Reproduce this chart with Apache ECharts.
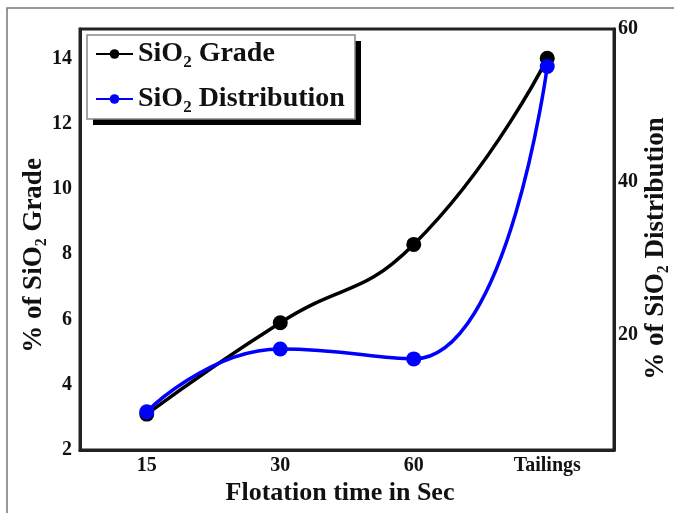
<!DOCTYPE html>
<html>
<head>
<meta charset="utf-8">
<script src="https://cdn.jsdelivr.net/npm/echarts@6/dist/echarts.min.js"></script>
<style>
html, body { margin: 0; padding: 0; background: #fff; }
#main { width: 674px; height: 513px; }
</style>
</head>
<body>
<div id="main"></div>
<script>
// data
var categories = ['15', '30', '60', 'Tailings'];
var gradeValues = [3.1, 5.9, 8.3, 14.0];          // left axis, % of SiO2 Grade
var distributionValues = [10.0, 18.2, 16.9, 55.1]; // right axis, % of SiO2 Distribution
var leftTicks = [2, 4, 6, 8, 10, 12, 14];
var rightTicks = [20, 40, 60];

var FONT = '"Liberation Serif", "DejaVu Serif", serif';
function subRich(size) {
    return {
        a: { fontFamily: FONT, fontWeight: 'bold', fontSize: size, color: '#111' },
        s: { fontFamily: FONT, fontWeight: 'bold', fontSize: Math.round(size * 0.6), color: '#111',
             padding: [Math.round(size * 0.6), 0, 0, 0] }
    };
}

var myChart = echarts.init(document.getElementById('main'));
myChart.setOption({
    animation: false,
    backgroundColor: '#fff',
    graphic: [{
        type: 'rect',
        shape: { x: 7, y: 8, width: 720, height: 600 },
        style: { fill: 'none', stroke: '#777', lineWidth: 1.5 },
        z: -10
    }, {
        // legend box shadow + box
        type: 'rect',
        shape: { x: 93, y: 41, width: 268, height: 84 },
        style: { fill: '#000' },
        z: 3
    }, {
        type: 'rect',
        shape: { x: 87, y: 35, width: 268, height: 84 },
        style: { fill: '#fff', stroke: '#888', lineWidth: 1.5 },
        z: 3
    }],
    grid: {
        left: 80, right: 60, top: 29, bottom: 63,
        outerBoundsMode: 'none',
        show: true, borderColor: '#222', borderWidth: 3
    },
    legend: {
        left: 95, top: 40,
        orient: 'vertical',
        padding: 0,
        itemGap: 14,
        itemWidth: 37, itemHeight: 12,
        z: 5,
        data: ['grade', 'dist'],
        formatter: function (name) {
            return name === 'grade' ? '{a|SiO}{s|2}{a| Grade}' : '{a|SiO}{s|2}{a| Distribution}';
        },
        textStyle: { rich: subRich(28) }
    },
    xAxis: {
        type: 'category',
        data: categories,
        name: 'Flotation time in Sec',
        nameLocation: 'middle',
        nameGap: 30,
        nameMoveOverlap: false,
        nameTextStyle: { fontFamily: FONT, fontWeight: 'bold', fontSize: 26, color: '#111', padding: [0, 14, 0, 0] },
        axisLine: { lineStyle: { color: '#222', width: 3 } },
        axisTick: { show: false },
        axisLabel: { fontFamily: FONT, fontWeight: 'bold', fontSize: 20, color: '#111', margin: 6 },
        splitLine: { show: false }
    },
    yAxis: [{
        type: 'value',
        min: 2, max: 14.9, interval: 2,
        position: 'left',
        name: '{a|% of SiO}{s|2}{a| Grade}',
        nameLocation: 'middle',
        nameGap: 30,
        nameMoveOverlap: false,
        nameRotate: 90,
        nameTextStyle: { rich: subRich(27), padding: [0, 32, 0, 0] },
        axisLine: { show: true, lineStyle: { color: '#222', width: 3 } },
        axisTick: { show: false },
        axisLabel: {
            fontFamily: FONT, fontWeight: 'bold', fontSize: 20, color: '#111', margin: 8,
            formatter: function (v) { return leftTicks.indexOf(v) >= 0 ? v : ''; }
        },
        splitLine: { show: false }
    }, {
        type: 'value',
        min: 5, max: 60, interval: 5,
        position: 'right',
        name: '{a|% of SiO}{s|2}{a| Distribution}',
        nameLocation: 'middle',
        nameGap: 26,
        nameMoveOverlap: false,
        nameRotate: 90,
        nameTextStyle: { rich: subRich(27), padding: [0, 18, 0, 0] },
        axisLine: { show: true, lineStyle: { color: '#222', width: 3 } },
        axisTick: { show: false },
        axisLabel: {
            fontFamily: FONT, fontWeight: 'bold', fontSize: 20, color: '#111', margin: 4,
            formatter: function (v) { return rightTicks.indexOf(v) >= 0 ? v : ''; }
        },
        splitLine: { show: false }
    }],
    series: [{
        name: 'grade',
        type: 'line',
        yAxisIndex: 0,
        smooth: 0.5,
        data: gradeValues,
        symbol: 'circle',
        symbolSize: 15,
        itemStyle: { color: '#000' },
        lineStyle: { color: '#000', width: 3.5 }
    }, {
        name: 'dist',
        type: 'line',
        yAxisIndex: 1,
        smooth: 0.5,
        data: distributionValues,
        symbol: 'circle',
        symbolSize: 15,
        itemStyle: { color: '#0000ff' },
        lineStyle: { color: '#0000ff', width: 3.5 }
    }]
});
</script>
</body>
</html>
